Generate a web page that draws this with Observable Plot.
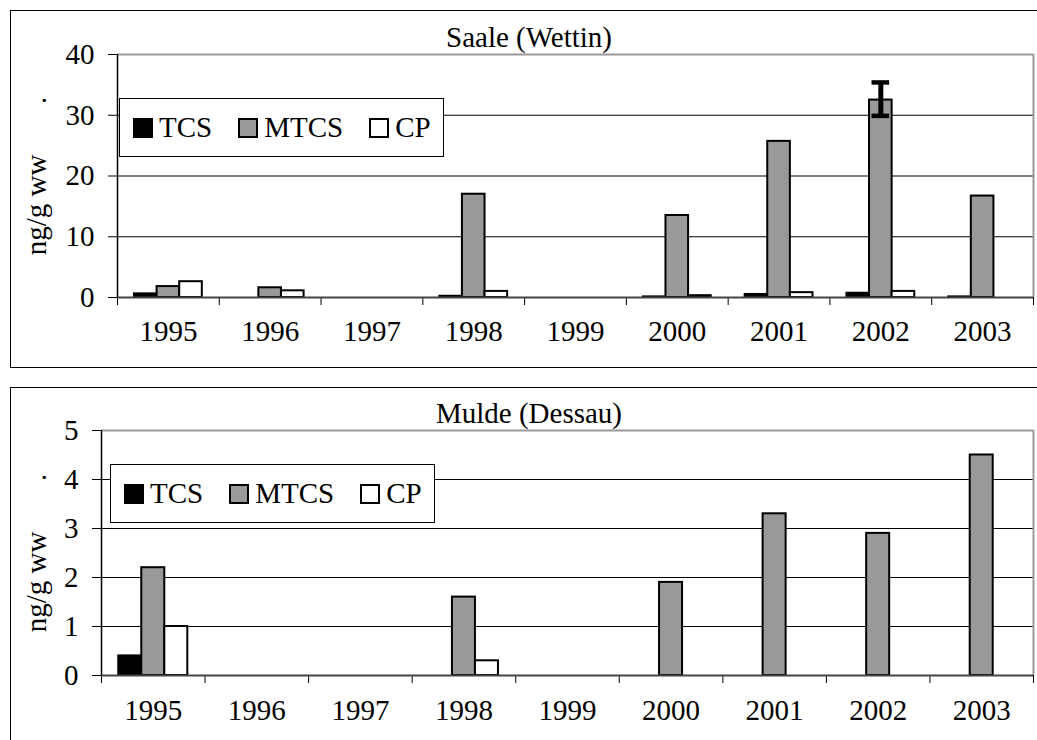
<!DOCTYPE html>
<html>
<head>
<meta charset="utf-8">
<script src="https://cdn.jsdelivr.net/npm/d3@7"></script>
<script src="https://cdn.jsdelivr.net/npm/@observablehq/plot@0.6"></script>
<style>
  body { margin: 0; background: white; }
  #page { position: relative; width: 1037px; height: 740px; overflow: hidden; background: white;
          font-family: "Liberation Serif", "Times New Roman", Times, "DejaVu Serif", serif; color: black; }
  .box { position: absolute; border: 1px solid #000; box-sizing: border-box; }
  .panel { position: absolute; left: 0; }
  .title { position: absolute; left: 10px; width: 1038px; text-align: center; font-size: 29px; line-height: 29px; white-space: nowrap; }
  .legend { position: absolute; width: 325px; height: 59px; box-sizing: border-box; border: 1px solid #000;
            background: white; display: flex; align-items: center; padding-left: 13px; font-size: 29px; }
  .legend .sw { width: 20px; height: 20px; box-sizing: border-box; border: 2px solid #000; margin-right: 6px; flex: none; }
  .legend .lab { margin-right: 26px; white-space: nowrap; }
</style>
</head>
<body>
<div id="page">
  <div class="box" style="left:10px;top:10px;width:1100px;height:358px;"></div>
  <div class="box" style="left:10px;top:387px;width:1100px;height:420px;"></div>
  <div id="saale" class="panel" style="top:0px;"></div>
  <div id="mulde" class="panel" style="top:370px;"></div>
</div>
<script>
// ---- data ----
const years = [1995, 1996, 1997, 1998, 1999, 2000, 2001, 2002, 2003];
const seriesNames = ["TCS", "MTCS", "CP"];
const seriesColors = ["#000000", "#999999", "#ffffff"];

const saaleTitle = "Saale (Wettin)";
const saaleTCS  = [0.6, null, null, 0.2, null, 0.1, 0.5, 0.7, 0.1];
const saaleMTCS = [1.8, 1.6, null, 17.0, null, 13.5, 25.7, 32.5, 16.7];
const saaleCP   = [2.6, 1.1, null, 1.0, null, 0.3, 0.8, 1.0, null];
const saaleYTicks = [0, 10, 20, 30, 40];
const saaleErrYear = [2002];
const saaleErrSeries = ["MTCS"];
const saaleErrLow = [29.9];
const saaleErrHigh = [35.4];

const muldeTitle = "Mulde (Dessau)";
const muldeTCS  = [0.4, null, null, null, null, null, null, null, null];
const muldeMTCS = [2.2, null, null, 1.6, null, 1.9, 3.3, 2.9, 4.5];
const muldeCP   = [1.0, null, null, 0.3, null, null, null, null, null];
const muldeYTicks = [0, 1, 2, 3, 4, 5];
const muldeErrYear = [];
const muldeErrSeries = [];
const muldeErrLow = [];
const muldeErrHigh = [];

const yLabel = "ng/g ww\u00a0\u00a0\u00a0\u00a0\u00a0\u00a0\u00a0.";

// ---- chart ----
const fontStack = "'Liberation Serif', 'Times New Roman', Times, 'DejaVu Serif', serif";
const groupFrac = 2 / 3;
const barW = groupFrac / seriesNames.length;

function barX1(year, k) { return year - groupFrac / 2 + k * barW; }

function makePanel(cfg) {
  const rows = [];
  cfg.series.forEach((vals, k) => {
    vals.forEach((v, i) => {
      if (v != null) rows.push({year: years[i], series: seriesNames[k], k, value: v});
    });
  });
  const errRows = cfg.errYear.map((yr, i) => {
    const k = seriesNames.indexOf(cfg.errSeries[i]);
    const c = barX1(yr, k) + barW / 2;
    return {c, lo: cfg.errLow[i], hi: cfg.errHigh[i], x1: c - barW * 0.39, x2: c + barW * 0.39};
  });
  const bounds = years.map(y => y - 0.5).concat([years[years.length - 1] + 0.5]);
  const yMax = cfg.yTicks[cfg.yTicks.length - 1];
  const inner = cfg.yTicks.filter(t => t > 0 && t < yMax);

  return Plot.plot({
    width: 1037,
    height: 370,
    marginLeft: cfg.marginLeft,
    marginRight: 4,
    marginTop: cfg.marginTop,
    marginBottom: cfg.marginBottom,
    style: {background: "transparent", fontFamily: fontStack, fontSize: "29px", color: "black", overflow: "visible"},
    x: {domain: [bounds[0], bounds[bounds.length - 1]], ticks: bounds, tickSize: 8, tickFormat: () => "", label: null},
    y: {domain: [0, yMax], ticks: cfg.yTicks, tickSize: 9, tickPadding: 14, tickFormat: d => String(d), label: null},
    color: {domain: seriesNames, range: seriesColors},
    marks: [
      Plot.ruleY(inner, {stroke: "#000", strokeWidth: 1}),
      Plot.ruleY([yMax], {stroke: "#999", strokeWidth: 2}),
      Plot.ruleX([bounds[bounds.length - 1]], {stroke: "#999", strokeWidth: 2}),
      Plot.rectY(rows, {
        x1: d => barX1(d.year, d.k),
        x2: d => barX1(d.year, d.k) + barW,
        y1: 0, y2: "value",
        fill: "series", stroke: "#000", strokeWidth: 2
      }),
      Plot.ruleY([0], {stroke: "#444", strokeWidth: 2}),
      Plot.ruleX([bounds[0]], {stroke: "#000", strokeWidth: 1.5}),
      Plot.ruleX(errRows, {x: "c", y1: "lo", y2: "hi", stroke: "#000", strokeWidth: 5}),
      Plot.ruleY(errRows, {y: "lo", x1: "x1", x2: "x2", stroke: "#000", strokeWidth: 4.5}),
      Plot.ruleY(errRows, {y: "hi", x1: "x1", x2: "x2", stroke: "#000", strokeWidth: 4.5}),
      Plot.text(years, {x: d => d, text: d => String(d), frameAnchor: "bottom", dy: cfg.labelDy, fill: "#000"}),
      Plot.text([yLabel], {text: d => d, frameAnchor: "left", textAnchor: "middle", rotate: -90, lineAnchor: "bottom", dx: cfg.yLabelDx, fill: "#000"})
    ]
  });
}

function addTitle(text, top) {
  const t = document.createElement("div");
  t.className = "title";
  t.style.top = top + "px";
  t.textContent = text;
  document.getElementById("page").appendChild(t);
}

function addLegend(left, top) {
  const lg = document.createElement("div");
  lg.className = "legend";
  lg.style.left = left + "px";
  lg.style.top = top + "px";
  seriesNames.forEach((name, k) => {
    const sw = document.createElement("span");
    sw.className = "sw";
    sw.style.background = seriesColors[k];
    const lab = document.createElement("span");
    lab.className = "lab";
    lab.textContent = name;
    lg.appendChild(sw);
    lg.appendChild(lab);
  });
  document.getElementById("page").appendChild(lg);
}

document.getElementById("saale").appendChild(makePanel({
  series: [saaleTCS, saaleMTCS, saaleCP],
  yTicks: saaleYTicks,
  errYear: saaleErrYear, errSeries: saaleErrSeries, errLow: saaleErrLow, errHigh: saaleErrHigh,
  marginLeft: 117, marginTop: 54, marginBottom: 73, labelDy: 43, yLabelDx: -72
}));
document.getElementById("mulde").appendChild(makePanel({
  series: [muldeTCS, muldeMTCS, muldeCP],
  yTicks: muldeYTicks,
  errYear: muldeErrYear, errSeries: muldeErrSeries, errLow: muldeErrLow, errHigh: muldeErrHigh,
  marginLeft: 101, marginTop: 60, marginBottom: 65, labelDy: 44, yLabelDx: -56
}));

addTitle(saaleTitle, 23);
addTitle(muldeTitle, 399);
addLegend(119, 98);
addLegend(110, 464);
</script>
</body>
</html>
